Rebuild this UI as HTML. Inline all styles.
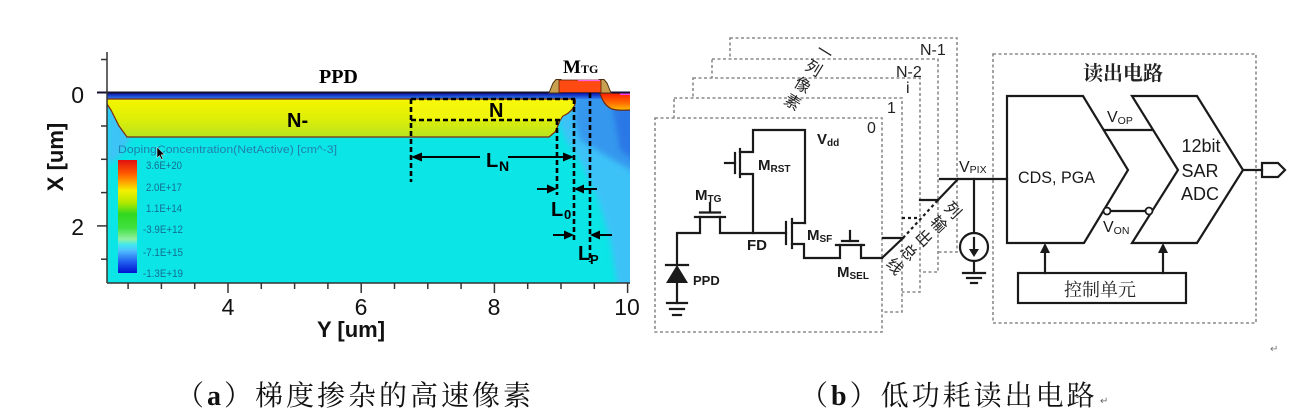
<!DOCTYPE html>
<html><head><meta charset="utf-8">
<style>
html,body{margin:0;padding:0;background:#fff;}
svg{display:block;}
text{font-family:"Liberation Sans","Noto Sans CJK SC",sans-serif;}
.ser{font-family:"Liberation Serif","Noto Serif CJK SC",serif;}
.cjks{font-family:"Liberation Serif","Noto Serif CJK SC",serif;}
</style></head><body>
<svg width="1310" height="416" viewBox="0 0 1310 416" xmlns="http://www.w3.org/2000/svg">
<defs>
<linearGradient id="yel" x1="0" y1="0" x2="0" y2="1">
<stop offset="0" stop-color="#f6f600"/><stop offset="0.55" stop-color="#dcee08"/><stop offset="1" stop-color="#b8e420"/></linearGradient>
<linearGradient id="band" x1="0" y1="0" x2="0" y2="1"><stop offset="0" stop-color="#0808a0"/><stop offset="1" stop-color="#2f80f4"/></linearGradient>
<linearGradient id="cbar" x1="0" y1="0" x2="0" y2="1">
<stop offset="0" stop-color="#e01010"/>
<stop offset="0.12" stop-color="#ff5a00"/>
<stop offset="0.2" stop-color="#ffa800"/>
<stop offset="0.27" stop-color="#f4f000"/>
<stop offset="0.38" stop-color="#b0e800"/>
<stop offset="0.48" stop-color="#30d820"/>
<stop offset="0.6" stop-color="#40e040"/>
<stop offset="0.7" stop-color="#90f0a0"/>
<stop offset="0.75" stop-color="#40e8f0"/>
<stop offset="0.8" stop-color="#50c0ff"/>
<stop offset="0.9" stop-color="#2060f0"/>
<stop offset="1" stop-color="#0010d0"/>
</linearGradient>
<linearGradient id="red" x1="0" y1="0" x2="0" y2="1"><stop offset="0" stop-color="#ff1a00"/><stop offset="0.6" stop-color="#ff7000"/><stop offset="1" stop-color="#ffc000"/></linearGradient>
<filter id="blur" x="-20%" y="-20%" width="140%" height="140%"><feGaussianBlur stdDeviation="3"/></filter>
<clipPath id="plotclip"><rect x="107" y="92" width="523" height="191"/></clipPath>
</defs>

<!-- ============ PLOT (a) ============ -->
<rect x="107" y="92" width="523" height="191" fill="#0be5e5"/>
<g clip-path="url(#plotclip)">
  <path d="M107,96 L122,100 L126,125 L130,140 L118,158 L107,166 Z" fill="#3ec4f6" filter="url(#blur)"/>
  <path d="M560,93 L640,93 L640,290 L618,290 L610,240 L598,200 L582,165 L566,140 L556,115 Z" fill="#3cc2f8" filter="url(#blur)"/>
  <path d="M574,93 L640,93 L640,175 L622,165 L600,152 L580,140 L574,120 Z" fill="#3698ee" filter="url(#blur)"/>
  <path d="M612,105 L640,105 L640,165 L620,150 Z" fill="#2a78e6" filter="url(#blur)"/>
  <rect x="107" y="92.5" width="523" height="6.5" fill="url(#band)"/>
  <path d="M107,99 L575,99 C577,106 570,113 563,116 C559,120 558,127 555,132 L549,137 L127,137 L119,126 L111,110 L107,104 Z" fill="url(#yel)" stroke="#7a2a10" stroke-width="1.2"/>
  <path d="M411,100 L574,100 C575,106 569,112 562,116 L560,120 L411,120 Z" fill="#fafa10" opacity="0.6"/>
  <path d="M600,93 C602,100 605,106 612,109 C618,111 624,110 632,110 L632,93 Z" fill="url(#red)" stroke="#6a2a10" stroke-width="1.2"/>
  <rect x="620" y="92" width="12" height="3" fill="#ff40e0"/>
</g>
<line x1="97" y1="92.5" x2="553" y2="92.5" stroke="#151030" stroke-width="2"/>
<line x1="607" y1="92.5" x2="630" y2="92.5" stroke="#151030" stroke-width="2"/>
<path d="M549,93 L553,83 L556,79.5 L561,79.5 L561,93 Z" fill="#c8a050" stroke="#4a3010" stroke-width="1"/>
<path d="M599,79.5 L604,79.5 L607,83 L611,93 L599,93 Z" fill="#c8a050" stroke="#4a3010" stroke-width="1"/>
<rect x="559" y="80" width="42" height="12.5" fill="#ff4a12" stroke="#5a2010" stroke-width="0.8"/>
<line x1="578" y1="80.5" x2="600" y2="80.5" stroke="#ff60e0" stroke-width="1.2"/>

<g stroke="#000" stroke-width="2.6" stroke-dasharray="5,3" fill="none">
  <line x1="411" y1="99" x2="411" y2="182"/>
  <line x1="411" y1="99" x2="575" y2="99"/>
  <line x1="411" y1="120" x2="560" y2="120"/>
  <line x1="557" y1="120" x2="557" y2="195"/>
  <line x1="574" y1="99" x2="574" y2="240"/>
  <line x1="590" y1="93" x2="590" y2="262"/>
</g>
<g stroke="#000" stroke-width="2" fill="none">
  <line x1="420" y1="157" x2="480" y2="157"/>
  <line x1="508" y1="157" x2="566" y2="157"/>
  <line x1="537" y1="189" x2="550" y2="189"/>
  <line x1="597" y1="189" x2="582" y2="189"/>
  <line x1="553" y1="235" x2="567" y2="235"/>
  <line x1="612" y1="235" x2="598" y2="235"/>
</g>
<g fill="#000">
  <polygon points="411,157 422,152.5 422,161.5"/>
  <polygon points="574,157 563,152.5 563,161.5"/>
  <polygon points="557,189 547,184.5 547,193.5"/>
  <polygon points="574,189 584,184.5 584,193.5"/>
  <polygon points="574,235 564,230.5 564,239.5"/>
  <polygon points="590,235 600,230.5 600,239.5"/>
</g>
<text x="486" y="167" font-size="20" font-weight="bold" fill="#000">L</text>
<text x="499" y="171" font-size="14" font-weight="bold" fill="#000">N</text>
<text x="551" y="216" font-size="20" font-weight="bold" fill="#000">L</text>
<text x="564" y="219" font-size="13" font-weight="bold" fill="#000">0</text>
<text x="578" y="260" font-size="20" font-weight="bold" fill="#000">L</text>
<text x="590" y="264" font-size="13" font-weight="bold" fill="#000">P</text>

<text x="287" y="127" font-size="20" font-weight="bold" fill="#000">N-</text>
<text x="489" y="117" font-size="20" font-weight="bold" fill="#000">N</text>
<text class="ser" x="319" y="83" font-size="20" font-weight="bold" fill="#000">PPD</text>
<text class="ser" x="563" y="73" font-size="19" font-weight="bold" fill="#000">M<tspan font-size="12">TG</tspan></text>

<text x="118" y="153" font-size="11" fill="#1f80ad" textLength="219" lengthAdjust="spacingAndGlyphs">DopingConcentration(NetActive) [cm^-3]</text>
<rect x="118" y="160" width="19" height="113" fill="url(#cbar)"/>
<g font-size="11" fill="#146e92">
  <text x="146" y="169" textLength="36" lengthAdjust="spacingAndGlyphs">3.6E+20</text>
  <text x="146" y="191" textLength="36" lengthAdjust="spacingAndGlyphs">2.0E+17</text>
  <text x="146" y="212" textLength="36" lengthAdjust="spacingAndGlyphs">1.1E+14</text>
  <text x="143" y="233" textLength="40" lengthAdjust="spacingAndGlyphs">-3.9E+12</text>
  <text x="143" y="256" textLength="40" lengthAdjust="spacingAndGlyphs">-7.1E+15</text>
  <text x="143" y="277" textLength="40" lengthAdjust="spacingAndGlyphs">-1.3E+19</text>
</g>
<polygon points="157,147 157,158 159.5,155.5 161.5,159.5 163,158.8 161,154.8 164.5,154.8" fill="#000" stroke="#fff" stroke-width="0.5"/>

<g stroke="#333" stroke-width="1.5">
  <line x1="107" y1="52" x2="107" y2="283"/>
  <line x1="107" y1="283" x2="630" y2="283"/>
  <line x1="97" y1="225.9" x2="107" y2="225.9"/>
  <line x1="101" y1="59.5" x2="107" y2="59.5"/>
  <line x1="101" y1="126" x2="107" y2="126"/>
  <line x1="101" y1="159.3" x2="107" y2="159.3"/>
  <line x1="101" y1="192.6" x2="107" y2="192.6"/>
  <line x1="101" y1="259.2" x2="107" y2="259.2"/>
  <line x1="228" y1="283" x2="228" y2="293"/>
  <line x1="361.2" y1="283" x2="361.2" y2="293"/>
  <line x1="494.4" y1="283" x2="494.4" y2="293"/>
  <line x1="627.6" y1="283" x2="627.6" y2="293"/>
  <line x1="128.1" y1="283" x2="128.1" y2="289"/>
  <line x1="161.4" y1="283" x2="161.4" y2="289"/>
  <line x1="194.7" y1="283" x2="194.7" y2="289"/>
  <line x1="261.3" y1="283" x2="261.3" y2="289"/>
  <line x1="294.6" y1="283" x2="294.6" y2="289"/>
  <line x1="327.9" y1="283" x2="327.9" y2="289"/>
  <line x1="394.5" y1="283" x2="394.5" y2="289"/>
  <line x1="427.8" y1="283" x2="427.8" y2="289"/>
  <line x1="461.1" y1="283" x2="461.1" y2="289"/>
  <line x1="527.7" y1="283" x2="527.7" y2="289"/>
  <line x1="561" y1="283" x2="561" y2="289"/>
  <line x1="594.3" y1="283" x2="594.3" y2="289"/>
</g>
<g font-size="23" fill="#111">
  <text x="84" y="103" text-anchor="end">0</text>
  <text x="84" y="235" text-anchor="end">2</text>
  <text x="228" y="315" text-anchor="middle">4</text>
  <text x="361" y="315" text-anchor="middle">6</text>
  <text x="494" y="315" text-anchor="middle">8</text>
  <text x="627" y="315" text-anchor="middle">10</text>
</g>
<text x="317" y="337" font-size="22" font-weight="bold" fill="#111">Y [um]</text>
<text transform="translate(63,157) rotate(-90)" text-anchor="middle" font-size="22" font-weight="bold" fill="#111">X [um]</text>

<!-- ============ CIRCUIT (b) ============ -->
<g fill="#fff" stroke="#8a8a8a" stroke-width="1.6" stroke-dasharray="3,2.5">
  <rect x="730" y="38" width="227" height="214"/>
  <rect x="712" y="59" width="226" height="213"/>
  <rect x="693" y="78" width="227" height="214"/>
  <rect x="674" y="98" width="228" height="214"/>
  <rect x="655" y="118" width="227" height="214"/>
  <rect x="993" y="54" width="263" height="269" fill="none"/>
</g>
<g font-size="16" fill="#222">
  <text x="867" y="133">0</text>
  <text x="887" y="113">1</text>
  <text x="906" y="93">i</text>
  <text x="896" y="77">N-2</text>
  <text x="920" y="55">N-1</text>
</g>
<g font-size="16" fill="#222" text-anchor="middle" dominant-baseline="central" style="font-family:'Noto Sans CJK SC',sans-serif">
  <text transform="translate(824,53) rotate(32)">一</text>
  <text transform="translate(813,69) rotate(32)">列</text>
  <text transform="translate(802,86) rotate(32)">像</text>
  <text transform="translate(792,103) rotate(32)">素</text>
  <text transform="translate(952,211) rotate(46)">列</text>
  <text transform="translate(938,225) rotate(46)">输</text>
  <text transform="translate(923,239) rotate(46)">出</text>
  <text transform="translate(908,253) rotate(46)">总</text>
  <text transform="translate(894,267) rotate(46)">线</text>
</g>

<g stroke="#1a1a1a" stroke-width="2.2" fill="none" stroke-linecap="square">
  <polyline points="677,265 677,233 700,233 700,217"/>
  <line x1="666" y1="265" x2="688" y2="265"/>
  <line x1="677" y1="283" x2="677" y2="303"/>
  <line x1="667" y1="303" x2="687" y2="303"/>
  <line x1="670" y1="309" x2="684" y2="309"/>
  <line x1="673" y1="315" x2="681" y2="315"/>
  <line x1="695" y1="217" x2="725" y2="217"/>
  <line x1="700" y1="212.5" x2="720" y2="212.5"/>
  <line x1="710" y1="203" x2="710" y2="212"/>
  <polyline points="720,217 720,233 786,233"/>
  <polyline points="805,223 805,130 753,130 753,152 740,152"/>
  <line x1="740" y1="149" x2="740" y2="177"/>
  <line x1="735" y1="153" x2="735" y2="173"/>
  <line x1="725" y1="163" x2="735" y2="163"/>
  <polyline points="740,174 753,174 753,233"/>
  <line x1="786" y1="222" x2="786" y2="244"/>
  <line x1="792" y1="219" x2="792" y2="248"/>
  <line x1="792" y1="223" x2="805" y2="223"/>
  <polyline points="792,244 804,244 804,258 840,258 840,245"/>
  <line x1="836" y1="245" x2="864" y2="245"/>
  <line x1="842" y1="241" x2="858" y2="241"/>
  <line x1="850" y1="231" x2="850" y2="241"/>
  <polyline points="861,245 861,258 882,258"/>
  <line x1="882" y1="258" x2="903" y2="238"/>
  <line x1="938" y1="200" x2="958" y2="179"/>
  <line x1="883" y1="238" x2="903" y2="238"/>
  <line x1="920" y1="200" x2="938" y2="200"/>
  <line x1="940" y1="179" x2="1007" y2="179"/>
  <line x1="974" y1="179" x2="974" y2="233"/>
  <circle cx="974" cy="247" r="14"/>
  <line x1="974" y1="238" x2="974" y2="252"/>
  <line x1="974" y1="261" x2="974" y2="273"/>
  <line x1="963" y1="273" x2="985" y2="273"/>
  <line x1="967" y1="278" x2="981" y2="278"/>
  <line x1="971" y1="283" x2="977" y2="283"/>
  <polygon points="1007,96 1083,96 1128,170 1084,243 1007,243" stroke-linejoin="miter"/>
  <polygon points="1132,96 1197,96 1243,170 1197,243 1132,243 1178,170"/>
  <line x1="1104" y1="130" x2="1152" y2="130"/>
  <line x1="1110" y1="211" x2="1146" y2="211"/>
  <line x1="1243" y1="170" x2="1262" y2="170"/>
  <polygon points="1262,163 1278,163 1285,170 1278,177 1262,177"/>
  <rect x="1018" y="273" width="168" height="30"/>
  <line x1="1045" y1="273" x2="1045" y2="251"/>
  <line x1="1163" y1="273" x2="1163" y2="251"/>
</g>
<g stroke="#1a1a1a" stroke-width="2.2" fill="none" stroke-dasharray="3,3">
  <line x1="903" y1="238" x2="938" y2="200"/>
  <line x1="902" y1="218" x2="917" y2="218"/>
</g>
<g fill="#1a1a1a">
  <polygon points="677,265 666,283 688,283"/>
  <polygon points="969,249 979,249 974,257"/>
  <polygon points="1040,253 1050,253 1045,243"/>
  <polygon points="1158,253 1168,253 1163,243"/>
</g>
<g fill="#fff" stroke="#1a1a1a" stroke-width="1.8">
  <circle cx="1107" cy="211" r="3.5"/>
  <circle cx="1149" cy="211" r="3.5"/>
</g>

<g fill="#1a1a1a" font-weight="bold">
  <text x="817" y="144" font-size="15">V<tspan font-size="10" dy="2">dd</tspan></text>
  <text x="758" y="170" font-size="15">M<tspan font-size="10" dy="2">RST</tspan></text>
  <text x="695" y="200" font-size="15">M<tspan font-size="10" dy="2">TG</tspan></text>
  <text x="747" y="250" font-size="15">FD</text>
  <text x="807" y="240" font-size="15">M<tspan font-size="10" dy="2">SF</tspan></text>
  <text x="837" y="277" font-size="15">M<tspan font-size="10" dy="2">SEL</tspan></text>
  <text x="693" y="285" font-size="13">PPD</text>
</g>
<g fill="#1a1a1a">
  <text x="959" y="172" font-size="16">V<tspan font-size="10.5" dy="1">PIX</tspan></text>
  <text x="1107" y="122" font-size="16">V<tspan font-size="10.5" dy="2">OP</tspan></text>
  <text x="1103" y="232" font-size="16">V<tspan font-size="10.5" dy="2">ON</tspan></text>
  <text x="1018" y="183" font-size="17" textLength="77" lengthAdjust="spacingAndGlyphs">CDS, PGA</text>
  <text x="1201" y="152" font-size="18" text-anchor="middle">12bit</text>
  <text x="1200" y="177" font-size="18" text-anchor="middle">SAR</text>
  <text x="1200" y="200" font-size="18" text-anchor="middle">ADC</text>
</g>
<text class="cjks" x="1083" y="80" font-size="20" font-weight="bold" fill="#222">读出电路</text>
<text class="cjks" x="1100" y="296" font-size="18" text-anchor="middle" fill="#222">控制单元</text>
<text x="1270" y="352" font-size="10" fill="#777">↵</text>

<text class="cjks" x="176" y="405" font-size="28" letter-spacing="3" fill="#111">（<tspan font-weight="bold">a</tspan>）梯度掺杂的高速像素</text>
<text class="cjks" x="800" y="405" font-size="28" letter-spacing="3" fill="#111">（<tspan font-weight="bold">b</tspan>）低功耗读出电路</text>
<text x="1100" y="404" font-size="10" fill="#666">↵</text>
</svg>
</body></html>
